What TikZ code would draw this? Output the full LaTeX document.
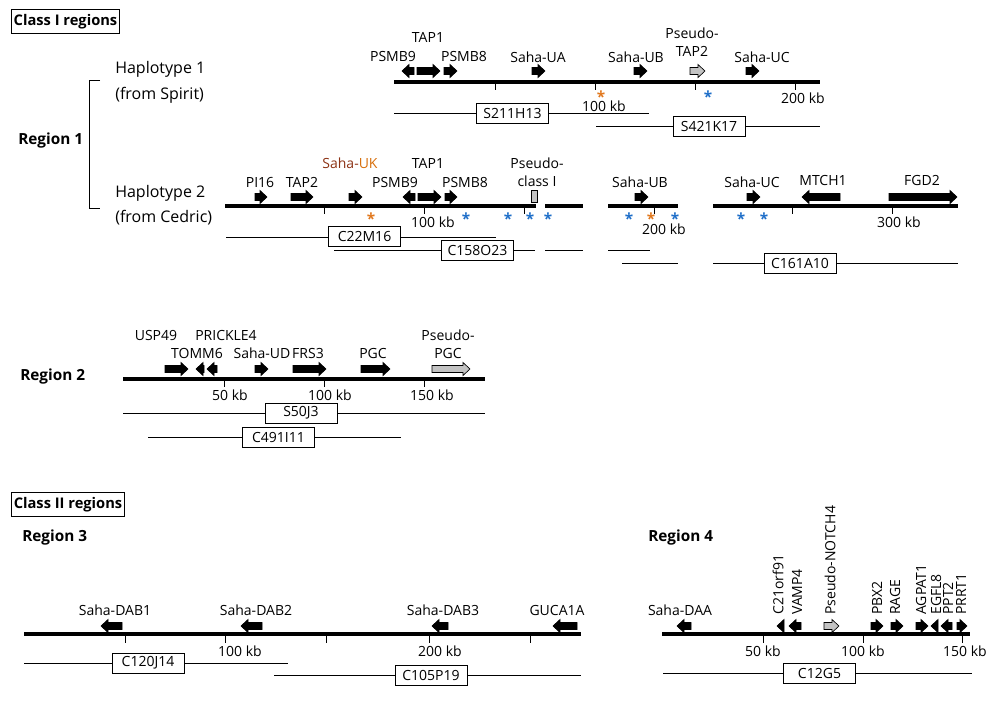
\documentclass[tikz,border=0pt]{standalone}
\usepackage{fontspec}
\setmainfont{Open Sans}
\usepackage{tikz}
\usetikzlibrary{positioning}
\definecolor{astblue}{RGB}{30,110,200}
\definecolor{astorange}{RGB}{225,120,30}
\definecolor{ukbrown}{RGB}{140,50,20}
\definecolor{ukorange}{RGB}{215,110,10}
\definecolor{pseudogray}{RGB}{195,195,195}
\tikzset{
  chrom/.style={line width=2.3pt},
  kbtick/.style={line width=0.7pt},
  clone/.style={line width=0.7pt},
  txt/.style={font=\fontsize{10.5}{13.5}\selectfont,inner sep=0pt,align=center},
  haplo/.style={font=\fontsize{12}{14}\selectfont,inner sep=0pt,anchor=west},
  regionlabel/.style={font=\bfseries\fontsize{11.5}{14}\selectfont,inner sep=0pt,anchor=west},
  classbox/.style={draw,line width=0.7pt,font=\bfseries\fontsize{11}{13}\selectfont,inner xsep=2pt,minimum height=16pt},
  clonebox/.style={draw,fill=white,line width=0.7pt,font=\fontsize{10.5}{12}\selectfont,minimum width=54pt,minimum height=15pt,inner sep=0pt},
  genearrow/.style={fill=#1,draw=black,line width=0.5pt,line join=miter},
  ast/.style={text=#1,font=\bfseries\fontsize{11.5}{12}\selectfont,inner sep=0pt,anchor=north,yshift=2pt},
  vlabel/.style={txt,rotate=90,anchor=west}
}
% gene arrow: [fill] {tail x} {tip x} {y}
\newcommand{\gene}[4][black]{%
  \pgfmathsetmacro{\gnDir}{(#3>#2) ? 1 : -1}%
  \pgfmathsetmacro{\gnHead}{min(7,abs(#3-#2))}%
  \pgfmathsetmacro{\gnNeck}{#3-\gnDir*\gnHead}%
  \filldraw[genearrow=#1] (#2,#4-3.5) -- (\gnNeck,#4-3.5) -- (\gnNeck,#4-6.5) -- (#3,#4)
    -- (\gnNeck,#4+6.5) -- (\gnNeck,#4+3.5) -- (#2,#4+3.5) -- cycle;}
\begin{document}
\begin{tikzpicture}[line cap=butt,x=0.75pt,y=-0.75pt]
\useasboundingbox (0,0) rectangle (1001,701);

% headings
\node[classbox] (class1) at (65.5,21.5) {Class I regions};
\node[classbox] (class2) at (68,504.5) {Class II regions};
\node[regionlabel] (reg1) at (18,141) {Region 1};
\node[regionlabel] (reg2) at (20,377) {Region 2};
\node[regionlabel] (reg3) at (22,538) {Region 3};
\node[regionlabel] (reg4) at (648,538) {Region 4};
\draw[line width=0.7pt] (100,80) -- (89,80) -- (89,208) -- (100,208);
\node[haplo] (hap1) at (115,69) {Haplotype 1};
\node[haplo] (spirit) at (115,95) {(from Spirit)};
\node[haplo] (hap2) at (115,193) {Haplotype 2};
\node[haplo] (cedric) at (115,218) {(from Cedric)};

% ---- Region 1, haplotype 1
\draw[chrom] (394,82) -- (820,82);
\foreach \x in {495,595,695,795}
  \draw[kbtick] (\x,82) -- (\x,90);
\node[txt] (h1kb100) at (604,106) {100 kb};
\node[txt] (h1kb200) at (803,98) {200 kb};
\gene{414}{402}{71}
\gene{417}{440}{71}
\gene{444}{457}{71}
\gene{532}{545}{71}
\gene{634}{647}{71}
\gene[pseudogray]{690}{705}{71}
\gene{746}{759}{71}
\node[txt] (h1psmb9) at (393,56) {PSMB9};
\node[txt] (h1tap1) at (428,37) {TAP1};
\node[txt] (h1psmb8) at (464,56) {PSMB8};
\node[txt] (h1ua) at (538,57) {Saha-UA};
\node[txt] (h1ub) at (636,57) {Saha-UB};
\node[txt] (h1tap2) at (692,42) {Pseudo-\\TAP2};
\node[txt] (h1uc) at (762,57) {Saha-UC};
\node[ast=astorange] (h1a1) at (601,93) {*};
\node[ast=astblue] (h1a2) at (708,93) {*};
\draw[clone] (394,113) -- (649,113);
\node[clonebox] (S211H13) at (512.5,113) {S211H13};
\draw[clone] (596,126) -- (820,126);
\node[clonebox] (S421K17) at (709,126) {S421K17};

% ---- Region 1, haplotype 2
\draw[chrom] (225,206) -- (536,206);
\draw[chrom] (545,206) -- (583,206);
\draw[chrom] (608,206) -- (678,206);
\draw[chrom] (713,206) -- (958,206);
\foreach \x in {324,424,524,654,792,892}
  \draw[kbtick] (\x,206) -- (\x,214);
\node[txt] (h2kb100) at (433,222) {100 kb};
\node[txt] (h2kb200) at (664,229) {200 kb};
\node[txt] (h2kb300) at (899,222) {300 kb};
\gene{255}{267}{197}
\gene{291}{313}{197}
\gene{349}{362}{197}
\gene{415}{403}{197}
\gene{418}{441}{197}
\gene{445}{457}{197}
\filldraw[genearrow=pseudogray] (531,190) rectangle (537,202);
\gene{635}{648}{197}
\gene{747}{760}{197}
\gene{840}{802}{197}
\gene{889}{957}{197}
\node[txt] (h2pi16) at (260,182) {PI16};
\node[txt] (h2tap2) at (302,182) {TAP2};
\node[txt] (h2uk) at (350,163) {\textcolor{ukbrown}{Saha-}\textcolor{ukorange}{UK}};
\node[txt] (h2tap1) at (428,163) {TAP1};
\node[txt] (h2psmb9) at (395,182) {PSMB9};
\node[txt] (h2psmb8) at (465,182) {PSMB8};
\node[txt] (h2cls1) at (537,172) {Pseudo-\\class I};
\node[txt] (h2ub) at (640,182) {Saha-UB};
\node[txt] (h2uc) at (752,182) {Saha-UC};
\node[txt] (h2mtch1) at (823,180) {MTCH1};
\node[txt] (h2fgd2) at (922,180) {FGD2};
\node[ast=astorange] (h2a1) at (371,215) {*};
\foreach \x [count=\i from 2] in {466,508,530,548,629,675,741,764}
  \node[ast=astblue] (h2a\i) at (\x,215) {*};
\node[ast=astorange] (h2a10) at (651,215) {*};
\draw[clone] (226,237) -- (496,237);
\node[clonebox] (C22M16) at (364.5,236.5) {C22M16};
\draw[clone] (334,250) -- (535,250);
\draw[clone] (545,250) -- (583,250);
\draw[clone] (608,250) -- (650,250);
\node[clonebox] (C158O23) at (477.5,250) {C158O23};
\draw[clone] (622,263) -- (678,263);
\draw[clone] (713,263) -- (958,263);
\node[clonebox] (C161A10) at (800,263) {C161A10};

% ---- Region 2
\draw[chrom] (123,379) -- (485,379);
\foreach \x in {224,324,424}
  \draw[kbtick] (\x,379) -- (\x,387);
\node[txt] (r2kb50) at (230,395) {50 kb};
\node[txt] (r2kb100) at (330,395) {100 kb};
\node[txt] (r2kb150) at (432,395) {150 kb};
\gene{165}{188}{369}
\gene{204}{196}{369}
\gene{217}{207}{369}
\gene{255}{268}{369}
\gene{293}{326}{369}
\gene{361}{390}{369}
\gene[pseudogray]{432}{470}{369}
\node[txt] (r2usp49) at (156,335) {USP49};
\node[txt] (r2prickle4) at (226,335) {PRICKLE4};
\node[txt] (r2tomm6) at (197,353) {TOMM6};
\node[txt] (r2ud) at (262,353) {Saha-UD};
\node[txt] (r2frs3) at (308,353) {FRS3};
\node[txt] (r2pgc) at (373,353) {PGC};
\node[txt] (r2pseudo) at (448,344) {Pseudo-\\PGC};
\draw[clone] (123,413) -- (485,413);
\node[clonebox] (S50J3) at (301,413) {S50J3};
\draw[clone] (148,437) -- (401,437);
\node[clonebox] (C491I11) at (278.5,437) {C491I11};

% ---- Region 3
\draw[chrom] (24,634) -- (581,634);
\foreach \x in {125,225,326,429,530}
  \draw[kbtick] (\x,634) -- (\x,643);
\node[txt] (r3kb100) at (240,651) {100 kb};
\node[txt] (r3kb200) at (440,651) {200 kb};
\gene{122}{101}{626}
\gene{262}{241}{626}
\gene{448}{432}{626}
\gene{577}{553}{626}
\node[txt] (r3dab1) at (115,610) {Saha-DAB1};
\node[txt] (r3dab2) at (256,610) {Saha-DAB2};
\node[txt] (r3dab3) at (443,610) {Saha-DAB3};
\node[txt] (r3guca) at (557,610) {GUCA1A};
\draw[clone] (24,663) -- (288,663);
\node[clonebox] (C120J14) at (148,663) {C120J14};
\draw[clone] (274,675) -- (581,675);
\node[clonebox] (C105P19) at (431,675) {C105P19};

% ---- Region 4
\draw[chrom] (662,634) -- (970,634);
\foreach \x in {763,863,962}
  \draw[kbtick] (\x,634) -- (\x,643);
\node[txt] (r4kb50) at (763,651) {50 kb};
\node[txt] (r4kb100) at (863,651) {100 kb};
\node[txt] (r4kb150) at (965,651) {150 kb};
\gene{691}{677}{626}
\gene{784}{777}{626}
\gene{801}{789}{626}
\gene[pseudogray]{824}{839}{626}
\gene{871}{883}{626}
\gene{891}{903}{626}
\gene{916}{928}{626}
\gene{938}{931}{626}
\gene{952}{941}{626}
\gene{957}{967}{626}
\node[txt] (r4daa) at (680,610) {Saha-DAA};
\node[vlabel] (r4c21) at (778,615) {C21orf91};
\node[vlabel] (r4vamp4) at (797,615) {VAMP4};
\node[vlabel] (r4notch4) at (830,615) {Pseudo-NOTCH4};
\node[vlabel] (r4pbx2) at (877,615) {PBX2};
\node[vlabel] (r4rage) at (895,615) {RAGE};
\node[vlabel] (r4agpat1) at (921,615) {AGPAT1};
\node[vlabel] (r4egfl8) at (936,615) {EGFL8};
\node[vlabel] (r4ppt2) at (948,615) {PPT2};
\node[vlabel] (r4prrt1) at (961,615) {PRRT1};
\draw[clone] (663,673) -- (972,673);
\node[clonebox] (C12G5) at (819.5,673) {C12G5};
\end{tikzpicture}
\end{document}
